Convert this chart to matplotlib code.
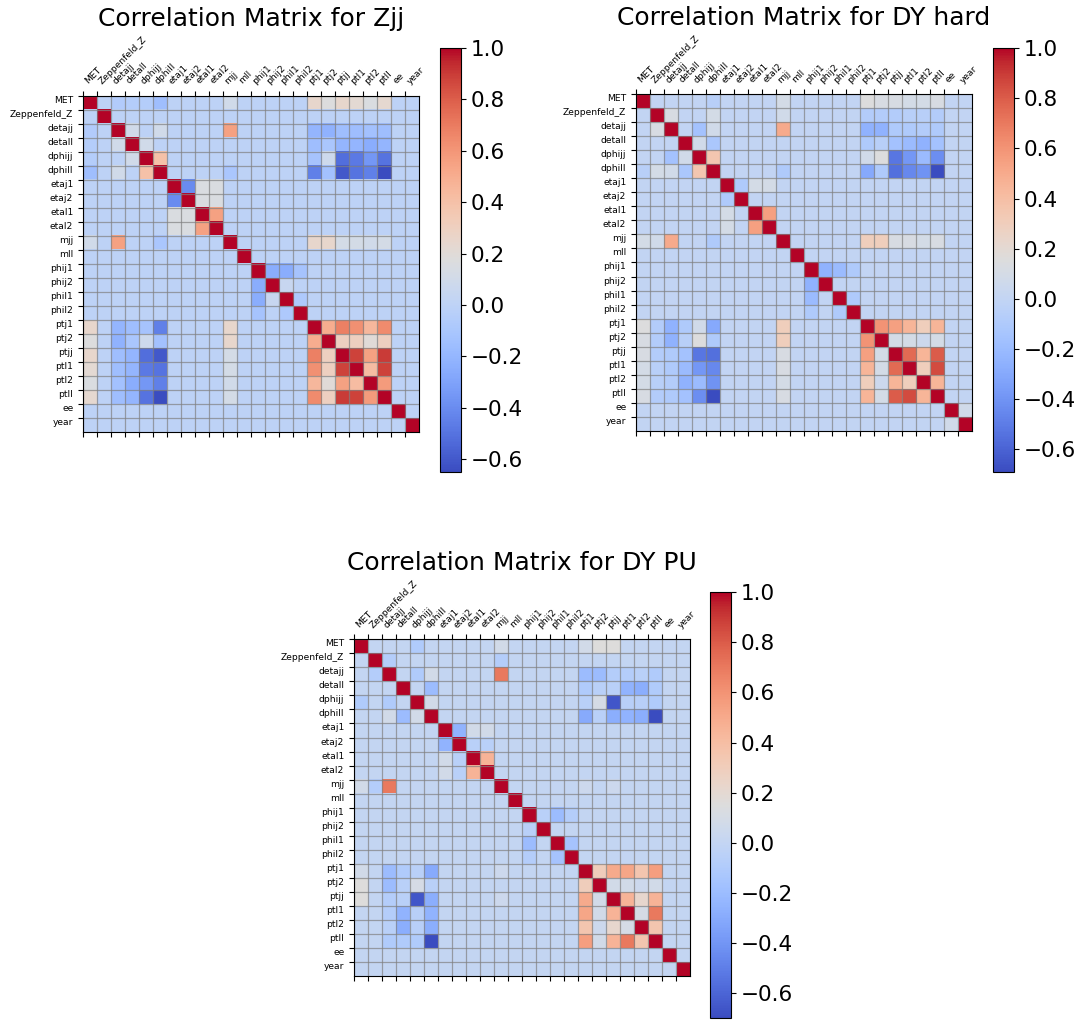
import numpy as np
import matplotlib
matplotlib.use("Agg")
import matplotlib.pyplot as plt

features = ["MET", "Zeppenfeld_Z", "detajj", "detall", "dphijj", "dphill",
            "etaj1", "etaj2", "etal1", "etal2", "mjj", "mll",
            "phij1", "phij2", "phil1", "phil2", "ptj1", "ptj2",
            "ptjj", "ptl1", "ptl2", "ptll", "ee", "year"]

# off-diagonal correlations (anything not listed is ~0)
zjj_corr = [
    ("MET", "detajj", -0.06), ("MET", "detall", -0.05), ("MET", "dphijj", -0.05),
    ("MET", "dphill", -0.15), ("MET", "mjj", 0.10), ("MET", "ptj1", 0.25),
    ("MET", "ptj2", 0.17), ("MET", "ptjj", 0.25), ("MET", "ptl1", 0.22),
    ("MET", "ptl2", 0.15), ("MET", "ptll", 0.23),
    ("detajj", "detall", 0.10), ("detajj", "dphill", 0.10), ("detajj", "mjj", 0.55),
    ("detajj", "ptj1", -0.20), ("detajj", "ptj2", -0.22), ("detajj", "ptjj", -0.15),
    ("detajj", "ptl1", -0.15), ("detajj", "ptl2", -0.13), ("detajj", "ptll", -0.15),
    ("detall", "dphijj", 0.10), ("detall", "ptj1", -0.15), ("detall", "ptj2", -0.10),
    ("detall", "ptjj", -0.20), ("detall", "ptl1", -0.20), ("detall", "ptl2", -0.25),
    ("detall", "ptll", -0.20),
    ("dphijj", "dphill", 0.40), ("dphijj", "ptj1", -0.12), ("dphijj", "ptj2", 0.08),
    ("dphijj", "ptjj", -0.52), ("dphijj", "ptl1", -0.47), ("dphijj", "ptl2", -0.35),
    ("dphijj", "ptll", -0.50),
    ("dphill", "mjj", -0.10), ("dphill", "ptj1", -0.45), ("dphill", "ptj2", -0.13),
    ("dphill", "ptjj", -0.60), ("dphill", "ptl1", -0.50), ("dphill", "ptl2", -0.45),
    ("dphill", "ptll", -0.65),
    ("etaj1", "etaj2", -0.40), ("etaj1", "etal1", 0.15), ("etaj1", "etal2", 0.15),
    ("etaj2", "etal1", 0.15), ("etaj2", "etal2", 0.15), ("etal1", "etal2", 0.55),
    ("mjj", "ptj1", 0.25), ("mjj", "ptj2", 0.25), ("mjj", "ptjj", 0.12),
    ("mjj", "ptl1", 0.12), ("mjj", "ptl2", 0.10), ("mjj", "ptll", 0.12),
    ("phij1", "phij2", -0.25), ("phij1", "phil1", -0.25), ("phij1", "phil2", -0.12),
    ("phij2", "phil1", 0.05), ("phil1", "phil2", -0.08),
    ("ptj1", "ptj2", 0.50), ("ptj1", "ptjj", 0.68), ("ptj1", "ptl1", 0.62),
    ("ptj1", "ptl2", 0.45), ("ptj1", "ptll", 0.64),
    ("ptj2", "ptjj", 0.30), ("ptj2", "ptl1", 0.30), ("ptj2", "ptl2", 0.20),
    ("ptj2", "ptll", 0.30),
    ("ptjj", "ptl1", 0.88), ("ptjj", "ptl2", 0.55), ("ptjj", "ptll", 0.90),
    ("ptl1", "ptl2", 0.42), ("ptl1", "ptll", 0.88), ("ptl2", "ptll", 0.58),
]

dy_hard_corr = [
    ("MET", "dphill", -0.05), ("MET", "mjj", 0.10), ("MET", "ptj1", 0.15),
    ("MET", "ptj2", 0.12), ("MET", "ptjj", 0.12), ("MET", "ptl1", 0.10),
    ("MET", "ptl2", 0.10), ("MET", "ptll", 0.12),
    ("Zeppenfeld_Z", "detajj", 0.12), ("Zeppenfeld_Z", "dphill", 0.10),
    ("Zeppenfeld_Z", "mjj", 0.08), ("Zeppenfeld_Z", "ptj1", -0.08),
    ("Zeppenfeld_Z", "ptj2", -0.08), ("Zeppenfeld_Z", "ptjj", -0.08),
    ("Zeppenfeld_Z", "ptl1", -0.05), ("Zeppenfeld_Z", "ptl2", -0.05),
    ("Zeppenfeld_Z", "ptll", -0.08),
    ("detajj", "dphijj", -0.15), ("detajj", "dphill", 0.08), ("detajj", "mjj", 0.50),
    ("detajj", "ptj1", -0.25), ("detajj", "ptj2", -0.25), ("detajj", "ptjj", -0.10),
    ("detajj", "ptl1", -0.10), ("detajj", "ptl2", -0.08), ("detajj", "ptll", -0.10),
    ("detall", "dphijj", 0.08), ("detall", "dphill", -0.12), ("detall", "ptj1", -0.10),
    ("detall", "ptj2", -0.05), ("detall", "ptjj", -0.15), ("detall", "ptl1", -0.20),
    ("detall", "ptl2", -0.25), ("detall", "ptll", -0.15),
    ("dphijj", "dphill", 0.35), ("dphijj", "ptj1", 0.08), ("dphijj", "ptj2", 0.15),
    ("dphijj", "ptjj", -0.52), ("dphijj", "ptl1", -0.38), ("dphijj", "ptl2", -0.20),
    ("dphijj", "ptll", -0.42),
    ("dphill", "mjj", -0.10), ("dphill", "ptj1", -0.30), ("dphill", "ptj2", -0.10),
    ("dphill", "ptjj", -0.55), ("dphill", "ptl1", -0.45), ("dphill", "ptl2", -0.40),
    ("dphill", "ptll", -0.69),
    ("etaj1", "etaj2", -0.10), ("etaj1", "etal1", 0.10), ("etaj1", "etal2", 0.10),
    ("etal1", "etal2", 0.55),
    ("mjj", "ptj1", 0.30), ("mjj", "ptj2", 0.30), ("mjj", "ptjj", 0.12),
    ("mjj", "ptl1", 0.12), ("mjj", "ptl2", 0.10), ("mjj", "ptll", 0.12),
    ("phij1", "phij2", -0.25), ("phij1", "phil1", -0.20), ("phij1", "phil2", -0.10),
    ("phil1", "phil2", -0.10),
    ("ptj1", "ptj2", 0.60), ("ptj1", "ptjj", 0.55), ("ptj1", "ptl1", 0.45),
    ("ptj1", "ptl2", 0.30), ("ptj1", "ptll", 0.45),
    ("ptj2", "ptjj", 0.10), ("ptj2", "ptl1", 0.10), ("ptj2", "ptl2", 0.05),
    ("ptj2", "ptll", 0.10),
    ("ptjj", "ptl1", 0.75), ("ptjj", "ptl2", 0.45), ("ptjj", "ptll", 0.80),
    ("ptl1", "ptl2", 0.30), ("ptl1", "ptll", 0.85), ("ptl2", "ptll", 0.45),
    ("ee", "year", 0.08),
]

dy_pu_corr = [
    ("MET", "dphijj", -0.10), ("MET", "mjj", 0.08), ("MET", "ptj1", 0.08),
    ("MET", "ptj2", 0.15), ("MET", "ptjj", 0.15),
    ("Zeppenfeld_Z", "detajj", -0.08), ("Zeppenfeld_Z", "mjj", -0.08),
    ("detajj", "dphijj", -0.10), ("detajj", "dphill", 0.08), ("detajj", "mjj", 0.70),
    ("detajj", "ptj1", -0.20), ("detajj", "ptj2", -0.20), ("detajj", "ptjj", -0.08),
    ("detajj", "ptl1", -0.08), ("detajj", "ptl2", -0.05), ("detajj", "ptll", -0.10),
    ("detall", "dphill", -0.20), ("detall", "ptj1", -0.10), ("detall", "ptj2", -0.05),
    ("detall", "ptjj", -0.05), ("detall", "ptl1", -0.25), ("detall", "ptl2", -0.28),
    ("detall", "ptll", -0.10),
    ("dphijj", "dphill", 0.08), ("dphijj", "ptj1", -0.05), ("dphijj", "ptj2", 0.10),
    ("dphijj", "ptjj", -0.66), ("dphijj", "ptl1", -0.06), ("dphijj", "ptl2", -0.06),
    ("dphijj", "ptll", -0.10),
    ("dphill", "ptj1", -0.30), ("dphill", "ptj2", -0.05), ("dphill", "ptjj", -0.28),
    ("dphill", "ptl1", -0.25), ("dphill", "ptl2", -0.28), ("dphill", "ptll", -0.70),
    ("etaj1", "etaj2", -0.25), ("etaj1", "etal1", 0.08), ("etaj1", "etal2", 0.08),
    ("etaj2", "etal1", -0.05), ("etaj2", "etal2", -0.05), ("etal1", "etal2", 0.45),
    ("mjj", "ptj1", 0.05), ("mjj", "ptjj", 0.05),
    ("phij1", "phij2", -0.05), ("phij1", "phil1", -0.20), ("phij1", "phil2", -0.08),
    ("phil1", "phil2", -0.15),
    ("ptj1", "ptj2", 0.30), ("ptj1", "ptjj", 0.50), ("ptj1", "ptl1", 0.52),
    ("ptj1", "ptl2", 0.35), ("ptj1", "ptll", 0.55),
    ("ptj2", "ptjj", 0.08), ("ptj2", "ptl1", 0.08), ("ptj2", "ptl2", 0.05),
    ("ptj2", "ptll", 0.08),
    ("ptjj", "ptl1", 0.45), ("ptjj", "ptl2", 0.22), ("ptjj", "ptll", 0.45),
    ("ptl1", "ptl2", 0.10), ("ptl1", "ptll", 0.70), ("ptl2", "ptll", 0.35),
]


def build_matrix(pairs):
    n = len(features)
    idx = {name: i for i, name in enumerate(features)}
    mat = np.eye(n)
    for a, b, r in pairs:
        mat[idx[a], idx[b]] = r
        mat[idx[b], idx[a]] = r
    return mat


def plot_corr(fig, ax_rect, cbar_rect, pairs, title):
    ax = fig.add_axes(ax_rect)
    cax = fig.add_axes(cbar_rect)
    mat = build_matrix(pairs)
    n = len(features)
    im = ax.imshow(mat, cmap="coolwarm", interpolation="nearest")

    # ticks on the cell edges so the grid outlines each cell
    edges = np.arange(n) - 0.5
    ax.set_xticks(edges)
    ax.set_yticks(edges)
    ax.set_xticklabels(features, rotation=45, ha="left", fontsize=6.6)
    ax.set_yticklabels(features, fontsize=6.6, va="top")
    ax.tick_params(top=True, labeltop=True, bottom=True, labelbottom=False)
    ax.set_xlim(-0.5, n - 0.5)
    ax.set_ylim(n - 0.5, -0.5)
    ax.grid(True, color="gray", linewidth=0.9, alpha=0.7)
    ax.set_title(title, fontsize=18)

    cb = fig.colorbar(im, cax=cax)
    cb.ax.tick_params(labelsize=15.5)
    return ax


fig = plt.figure(figsize=(10.84, 10.21), dpi=100)

plot_corr(fig, [0.0766, 0.5769, 0.310, 0.330], [0.4059, 0.5377, 0.0194, 0.4153],
          zjj_corr, "Correlation Matrix for Zjj")
plot_corr(fig, [0.5867, 0.5779, 0.310, 0.330], [0.9160, 0.5377, 0.0194, 0.4153],
          dy_hard_corr, "Correlation Matrix for DY hard")
plot_corr(fig, [0.3266, 0.0441, 0.310, 0.330], [0.6550, 0.0029, 0.0194, 0.4170],
          dy_pu_corr, "Correlation Matrix for DY PU")

fig.savefig("out.png", dpi=100)
